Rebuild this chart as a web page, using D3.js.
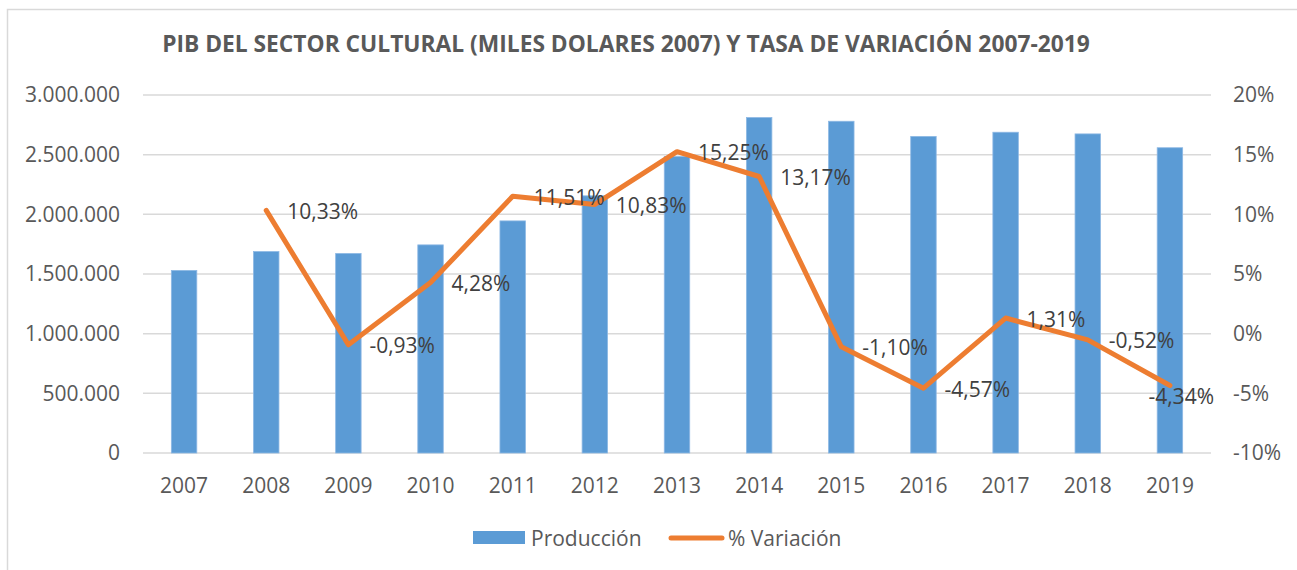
<!DOCTYPE html>
<html><head><meta charset="utf-8">
<script src="https://cdn.jsdelivr.net/npm/d3@7"></script>
<style>
html,body{margin:0;padding:0;background:#fff;}
svg{display:block;font-family:"Open Sans",sans-serif;}
</style></head>
<body><svg id="c" width="1297" height="570"></svg>
<script>
const years = ["2007","2008","2009","2010","2011","2012","2013","2014","2015","2016","2017","2018","2019"];
const produccion = [1530000,1688000,1672000,1744000,1945000,2155000,2484000,2811000,2780000,2653000,2688000,2674000,2558000];
const variacion = [null,10.33,-0.93,4.28,11.51,10.83,15.25,13.17,-1.10,-4.57,1.31,-0.52,-4.34];
const variacionLabels = [null,"10,33%","-0,93%","4,28%","11,51%","10,83%","15,25%","13,17%","-1,10%","-4,57%","1,31%","-0,52%","-4,34%"];
const leftTicks = [0,500000,1000000,1500000,2000000,2500000,3000000];
const rightTicks = [-10,-5,0,5,10,15,20];
const title = "PIB DEL SECTOR CULTURAL (MILES DOLARES 2007) Y TASA DE VARIACIÓN 2007-2019";
const seriesNames = ["Producción","% Variación"];

const svg = d3.select("#c");
const L = 143, R = 1211, T = 95, B = 453;
const blue = "#5B9BD5", orange = "#ED7D31", grid = "#D9D9D9", txt = "#595959", lbl = "#404040";
const FS = "21px";

// outer frame
svg.append("rect").attr("x",7.5).attr("y",9.5).attr("width",1300).attr("height",600)
  .attr("fill","none").attr("stroke","#D9D9D9").attr("stroke-width",1.5);

const x = d3.scaleBand().domain(years).range([L,R]).paddingInner(0.69).paddingOuter(0.345);
const yL = d3.scaleLinear().domain([0,3000000]).range([B,T]);
const yR = d3.scaleLinear().domain([-10,20]).range([B,T]);

const fmtL = v => d3.format(",")(v).replace(/,/g,".");

// gridlines
svg.append("g").selectAll("line").data(leftTicks).join("line")
  .attr("x1",L).attr("x2",R).attr("y1",d=>yL(d)).attr("y2",d=>yL(d))
  .attr("stroke",grid).attr("stroke-width",1.5);

// left axis
const gL = svg.append("g").attr("transform",`translate(${L},0)`)
  .call(d3.axisLeft(yL).tickValues(leftTicks).tickFormat(fmtL).tickSize(0).tickPadding(23));
gL.select(".domain").remove();
gL.selectAll("text").attr("fill",txt).style("font-size",FS).style("font-family","Open Sans");

// right axis
const gR = svg.append("g").attr("transform",`translate(${R},0)`)
  .call(d3.axisRight(yR).tickValues(rightTicks).tickFormat(d=>d+"%").tickSize(0).tickPadding(22));
gR.select(".domain").remove();
gR.selectAll("text").attr("fill",txt).style("font-size",FS).style("font-family","Open Sans");

// bottom axis
const gB = svg.append("g").attr("transform",`translate(0,${B})`)
  .call(d3.axisBottom(x).tickSize(0).tickPadding(25));
gB.select(".domain").remove();
gB.selectAll("text").attr("fill",txt).style("font-size",FS).style("font-family","Open Sans");

// bars
svg.append("g").selectAll("rect").data(produccion).join("rect")
  .attr("x",(d,i)=>x(years[i])).attr("width",x.bandwidth())
  .attr("y",d=>yL(d)).attr("height",d=>B-yL(d))
  .attr("fill",blue).attr("stroke","#8DB8E4").attr("stroke-width",0.8);

// line
const cx = i => x(years[i]) + x.bandwidth()/2;
const pts = variacion.map((v,i)=>({v,i})).filter(d=>d.v!==null);
svg.append("path").datum(pts)
  .attr("d", d3.line().x(d=>cx(d.i)).y(d=>yR(d.v)))
  .attr("fill","none").attr("stroke",orange).attr("stroke-width",5)
  .attr("stroke-linejoin","round").attr("stroke-linecap","round");

// labels
const lg = svg.append("g");
pts.forEach(d=>{
  const t = lg.append("text").text(variacionLabels[d.i])
    .attr("x", cx(d.i)+21).attr("y", yR(d.v)+3)
    .attr("dominant-baseline","middle")
    .attr("fill",lbl).style("font-size",FS).style("font-family","Open Sans");
  const w = t.node().getComputedTextLength();
  if (cx(d.i)+21+w > R+4) {
    t.attr("x", R+3-w).attr("y", yR(d.v)+13);
  }
});

// title
const tt = svg.append("text").text(title).attr("x",626).attr("y",46)
  .attr("text-anchor","middle").attr("dominant-baseline","middle")
  .attr("fill",txt).style("font-weight","bold").style("font-size","19px").style("font-family","Open Sans");
const tw = tt.node().getComputedTextLength();
tt.style("font-size",(19*928/tw)+"px");

// legend
const leg = svg.append("g");
leg.append("rect").attr("x",473).attr("y",531).attr("width",52).attr("height",13).attr("fill",blue);
leg.append("text").text(seriesNames[0]).attr("x",531).attr("y",540).attr("dominant-baseline","middle")
  .attr("fill",txt).style("font-size",FS).style("font-family","Open Sans");
leg.append("line").attr("x1",671).attr("x2",722).attr("y1",538).attr("y2",538)
  .attr("stroke",orange).attr("stroke-width",5).attr("stroke-linecap","round");
leg.append("text").text(seriesNames[1]).attr("x",728).attr("y",540).attr("dominant-baseline","middle")
  .attr("fill",txt).style("font-size",FS).style("font-family","Open Sans");
</script></body></html>
